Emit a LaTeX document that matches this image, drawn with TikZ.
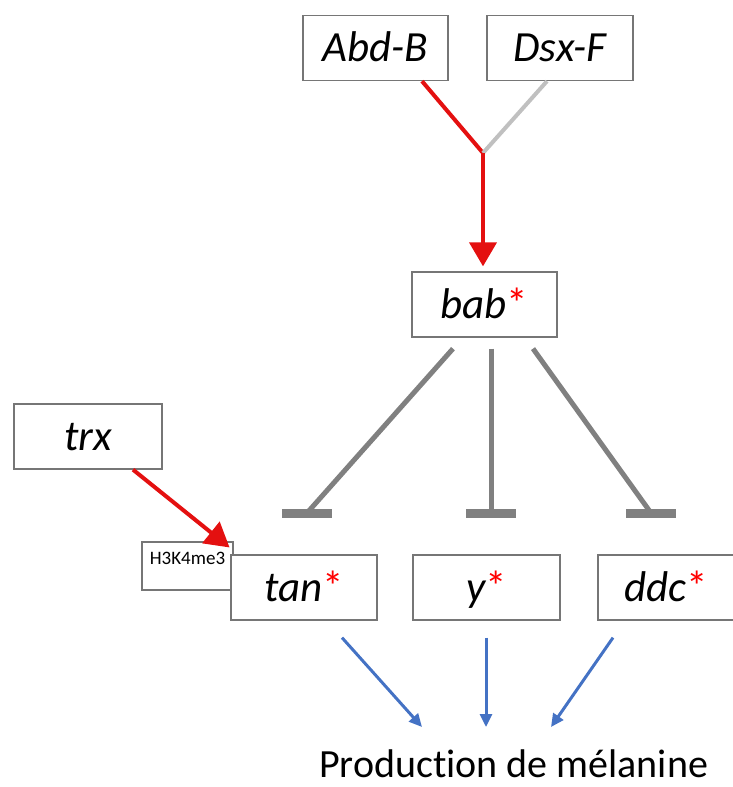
\documentclass[tikz,border=0pt]{standalone}
\usepackage{fontspec}
\setmainfont{Carlito}[Ligatures=NoCommon]
\usetikzlibrary{arrows.meta}
\definecolor{actred}{RGB}{228,16,16}
\definecolor{inhgray}{RGB}{128,128,128}
\definecolor{dsxgray}{RGB}{192,192,192}
\definecolor{prodblue}{RGB}{68,114,196}
\definecolor{boxgray}{RGB}{118,118,118}
\newcommand{\redstar}{{\color{red}\upshape*}}
\begin{document}
\begin{tikzpicture}[x=1pt,y=-1pt,
  gene/.style={draw=boxgray,line width=1.3pt,fill=white,inner sep=0pt,minimum height=65pt,
    text height=27pt,text depth=0pt,font=\fontsize{43}{46}\selectfont\itshape},
  act/.style={actred,line width=4pt},
  actarrow/.style={act,-{Triangle[length=24pt,width=27pt]}},
  inh/.style={inhgray,line width=5pt},
  tbar/.style={inhgray,line width=9pt},
  prod/.style={prodblue,line width=3pt,-{Triangle[length=13pt,width=12pt]}}]
\useasboundingbox (0,0) rectangle (733,787);
% regulators
\node[gene,minimum width=145pt] (abdb) at (375.5,48) {Abd-B};
\node[gene,minimum width=146pt] (dsxf) at (560,48) {Dsx-F};
\coordinate (junc) at (483,153);
\draw[act] ([xshift=46.5pt]abdb.south) -- (junc);
\draw[dsxgray,line width=4pt] ([xshift=-13pt]dsxf.south) -- (junc);
\node[gene,minimum width=145pt] (bab) at (484.5,304.5) {bab\redstar};
\draw[actarrow,shorten >=5pt] (junc) -- (junc |- bab.north);
% trx and the mark
\node[gene,minimum width=148pt] (trx) at (88,436.5) {trx};
\node[draw=boxgray,line width=1.1pt,fill=white,inner sep=0pt,minimum width=91pt,
  text height=22pt,text depth=26pt,font=\fontsize{19}{21}\selectfont] (h3k) at (187.5,566) {H3K4me3};
\draw[actarrow] ([xshift=45pt]trx.south) -- ([xshift=-4pt,yshift=-6pt]h3k.north east);
% targets
\node[gene,minimum width=146pt] (tan) at (304,587.5) {tan\redstar};
\node[gene,minimum width=147pt] (y) at (486.5,587.5) {y\redstar};
\node[gene,minimum width=137pt] (ddc) at (666.5,587.5) {ddc\redstar};
\coordinate (tanbar) at (307,513);
\coordinate (ybar) at (491,513);
\coordinate (ddcbar) at (651,513);
\draw[inh] ([xshift=-31.5pt,yshift=-11pt]bab.south) -- (tanbar);
\draw[inh] ([xshift=6.5pt,yshift=-11pt]bab.south) -- (ybar);
\draw[inh] ([xshift=48.5pt,yshift=-11pt]bab.south) -- (ddcbar);
\foreach \b in {tanbar,ybar,ddcbar}
  \draw[tbar] ([xshift=-25pt]\b) -- ([xshift=25pt]\b);
% output
\node[anchor=base,font=\fontsize{40}{44}\selectfont] (mel) at (513.5,777) {Production de mélanine};
\coordinate (m1) at (422,727);
\coordinate (m2) at (486,727);
\coordinate (m3) at (551,727);
\draw[prod] ([xshift=38pt,yshift=-17pt]tan.south) -- (m1);
\draw[prod] ([xshift=-0.5pt,yshift=-17pt]y.south) -- (m2);
\draw[prod] ([xshift=-53.5pt,yshift=-17pt]ddc.south) -- (m3);
\end{tikzpicture}
\end{document}
